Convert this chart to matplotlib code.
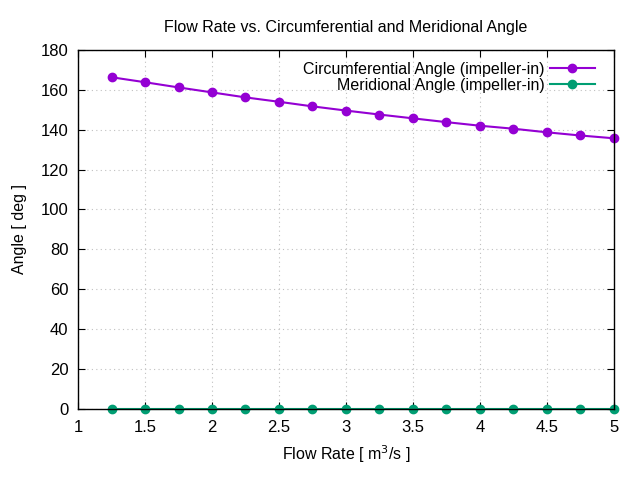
import matplotlib
matplotlib.use("Agg")
import matplotlib.pyplot as plt

plt.rcParams['font.family'] = ['Liberation Sans', 'DejaVu Sans']

# flow rate [m^3/s]
flow = [1.25, 1.5, 1.75, 2.0, 2.25, 2.5, 2.75, 3.0, 3.25, 3.5, 3.75, 4.0, 4.25, 4.5, 4.75, 5.0]
# angles [deg]
circ_angle = [166.3, 163.8, 161.2, 158.7, 156.2, 154.0, 151.7, 149.6, 147.6, 145.7, 143.8, 142.0, 140.5, 138.7, 137.1, 135.7]
merid_angle = [0.0] * 16

fig = plt.figure(figsize=(6.4, 4.8), dpi=100)
ax = fig.add_axes([0.122, 0.148, 0.837, 0.748])

ax.plot(flow, circ_angle, color='#9400d3', lw=1.5, marker='o', ms=6,
        label='Circumferential Angle (impeller-in)', clip_on=False)
ax.plot(flow, merid_angle, color='#009e73', lw=1.5, marker='o', ms=6,
        label='Meridional Angle (impeller-in)', clip_on=False)

ax.set_xlim(1, 5)
ax.set_ylim(0, 180)
ax.set_xticks([1, 1.5, 2, 2.5, 3, 3.5, 4, 4.5, 5])
ax.set_xticklabels(['1', '1.5', '2', '2.5', '3', '3.5', '4', '4.5', '5'])
ax.set_yticks(range(0, 181, 20))
ax.tick_params(direction='in', top=True, right=True, labelsize=12, length=5)
ax.tick_params(axis='x', pad=8)
ax.tick_params(axis='y', pad=7)
ax.grid(True, color='#c0c0c0', ls=(0, (1, 3)), lw=0.8)
for s in ax.spines.values():
    s.set_linewidth(1.0)

ax.set_xlabel('Flow Rate [ m$^3$/s ]', fontsize=11.5, labelpad=6)
ax.set_ylabel('Angle [ deg ]', fontsize=11.5, labelpad=10)
ax.set_title('Flow Rate vs. Circumferential and Meridional Angle', fontsize=11.5, pad=13)

ax.legend(loc='upper right', bbox_to_anchor=(0.987, 1.0), frameon=False,
          markerfirst=False, fontsize=11.5, handlelength=2.8,
          handletextpad=0.35, borderaxespad=0.36, labelspacing=0.05)

fig.savefig('out.png', dpi=100)
